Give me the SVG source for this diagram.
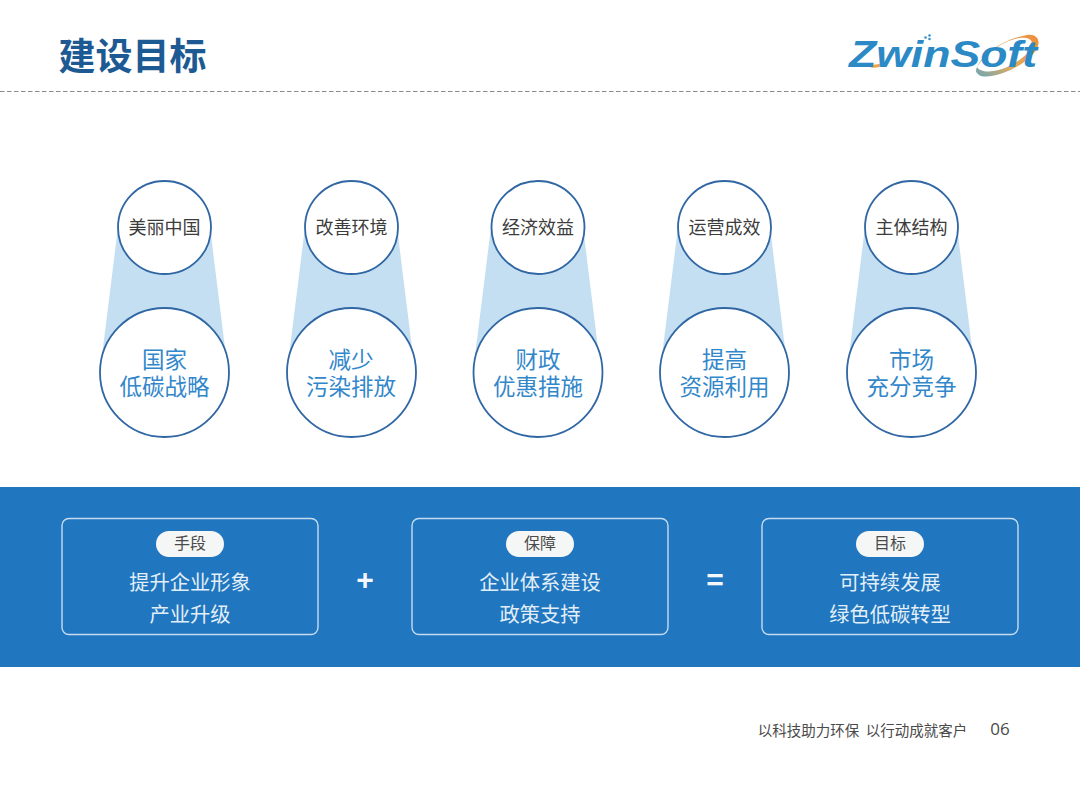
<svg xmlns="http://www.w3.org/2000/svg" width="1080" height="785" viewBox="0 0 1080 785">
<defs>
<linearGradient id="arc" x1="0" y1="1" x2="1" y2="0"><stop offset="0" stop-color="#6aa6b8"/><stop offset="0.4" stop-color="#e3ab5c"/><stop offset="1" stop-color="#ec8f3c"/></linearGradient>
</defs>
<style>
text{font-family:"Noto Sans CJK SC","Noto Sans",sans-serif;text-anchor:middle}
.cone{fill:#c5dff2}
.circ{fill:#fff;stroke:#2f66a3;stroke-width:1.8}
.top{font-size:18px;fill:#3c3c3c}
.big{font-size:22.500px;fill:#3287cb}
.box{fill:none;stroke:#c6dcef;stroke-width:1.400}
.pill{fill:#f5f7f6}
.tag{font-size:16px;fill:#4a4a4a}
.body{font-size:20.300px;fill:#e3eff8}
.op{font-size:30px;font-weight:700;fill:#f4f8fb;font-family:"Liberation Sans",sans-serif}
</style>
<rect width="1080" height="785" fill="#fff"/>
<g id="header">
<text x="132.500" y="70" style="font-size:37px;font-weight:700;fill:#1d5a94">建设目标</text>
<line x1="0" y1="91.500" x2="1080" y2="91.500" stroke="#8a8a8a" stroke-width="1" stroke-dasharray="4.500 2.500"/>
</g>
<g id="logo">
<path d="M977 67C983 54 1003 39 1027 35C1036 34 1040 39 1038 46C1035 56 1018 68 1003 73C992 77 981 78 978 74C975 72 976 69 977 67C980 72 990 73 1002 69C1016 64 1031 53 1032 45C1033 39 1027 37 1019 38C1002 41 985 54 977 67Z" fill="url(#arc)"/>
<path d="M863 63C870 66 880 65 887 61C882 69 870 70 863 63Z" fill="#e9a64c"/>
<circle cx="925.500" cy="37.500" r="1.300" fill="#3b93cc"/><circle cx="929.500" cy="35.500" r="1.300" fill="#3b93cc"/><circle cx="929.500" cy="39" r="1.300" fill="#3b93cc"/>
<text x="943" y="67" style="font-family:'Liberation Sans',sans-serif;font-size:36px;font-weight:700;font-style:italic;fill:#2b8ac6" textLength="188" lengthAdjust="spacingAndGlyphs">ZwinSoft</text>
</g>
<g id="node-1">
<path class="cone" d="M118 227L210 227L228 372L100 372Z"/>
<circle class="circ" cx="164.500" cy="372.500" r="64.500"/><circle class="circ" cx="164.500" cy="227.500" r="46.500"/>
<text class="top" x="164.500" y="234">美丽中国</text>
<text class="big"><tspan x="164.500" y="368">国家</tspan><tspan x="164.500" y="395">低碳战略</tspan></text>
</g>
<g id="node-2">
<path class="cone" d="M305 227L397 227L415 372L287 372Z"/>
<circle class="circ" cx="351.500" cy="372.500" r="64.500"/><circle class="circ" cx="351.500" cy="227.500" r="46.500"/>
<text class="top" x="351.500" y="234">改善环境</text>
<text class="big"><tspan x="351" y="368">减少</tspan><tspan x="351" y="395">污染排放</tspan></text>
</g>
<g id="node-3">
<path class="cone" d="M491 227L583 227L601 372L473 372Z"/>
<circle class="circ" cx="538" cy="372.500" r="64.500"/><circle class="circ" cx="538" cy="227.500" r="46.500"/>
<text class="top" x="538" y="234">经济效益</text>
<text class="big"><tspan x="538" y="368">财政</tspan><tspan x="538" y="395">优惠措施</tspan></text>
</g>
<g id="node-4">
<path class="cone" d="M678 227L770 227L788 372L660 372Z"/>
<circle class="circ" cx="724.500" cy="372.500" r="64.500"/><circle class="circ" cx="724.500" cy="227.500" r="46.500"/>
<text class="top" x="724.500" y="234">运营成效</text>
<text class="big"><tspan x="724.500" y="368">提高</tspan><tspan x="724.500" y="395">资源利用</tspan></text>
</g>
<g id="node-5">
<path class="cone" d="M865 227L957 227L975 372L847 372Z"/>
<circle class="circ" cx="911.500" cy="372.500" r="64.500"/><circle class="circ" cx="911.500" cy="227.500" r="46.500"/>
<text class="top" x="911.500" y="234">主体结构</text>
<text class="big"><tspan x="911.500" y="368">市场</tspan><tspan x="911.500" y="395">充分竞争</tspan></text>
</g>
<rect id="band" x="0" y="487" width="1080" height="180" fill="#2076bf"/>
<g id="box-1">
<rect class="box" x="62" y="518.500" width="256" height="116" rx="7"/>
<rect class="pill" x="156" y="531" width="68" height="26" rx="13"/>
<text class="tag" x="190" y="549">手段</text>
<text class="body" x="190" y="590">提升企业形象</text><text class="body" x="190" y="622">产业升级</text>
</g>
<text class="op" x="365" y="590">+</text>
<g id="box-2">
<rect class="box" x="412" y="518.500" width="256" height="116" rx="7"/>
<rect class="pill" x="506" y="531" width="68" height="26" rx="13"/>
<text class="tag" x="540" y="549">保障</text>
<text class="body" x="540" y="590">企业体系建设</text><text class="body" x="540" y="622">政策支持</text>
</g>
<text class="op" x="715" y="590">=</text>
<g id="box-3">
<rect class="box" x="762" y="518.500" width="256" height="116" rx="7"/>
<rect class="pill" x="856" y="531" width="68" height="26" rx="13"/>
<text class="tag" x="890" y="549">目标</text>
<text class="body" x="890" y="590">可持续发展</text><text class="body" x="890" y="622">绿色低碳转型</text>
</g>
<g id="footer">
<text x="862.500" y="736" xml:space="preserve" style="font-size:14.500px;fill:#4a4a4a;white-space:pre">以科技助力环保  以行动成就客户</text>
<text x="1000" y="735" style="font-size:17px;fill:#4a4a4a;font-family:'Open Sans',sans-serif">06</text>
</g>
</svg>
